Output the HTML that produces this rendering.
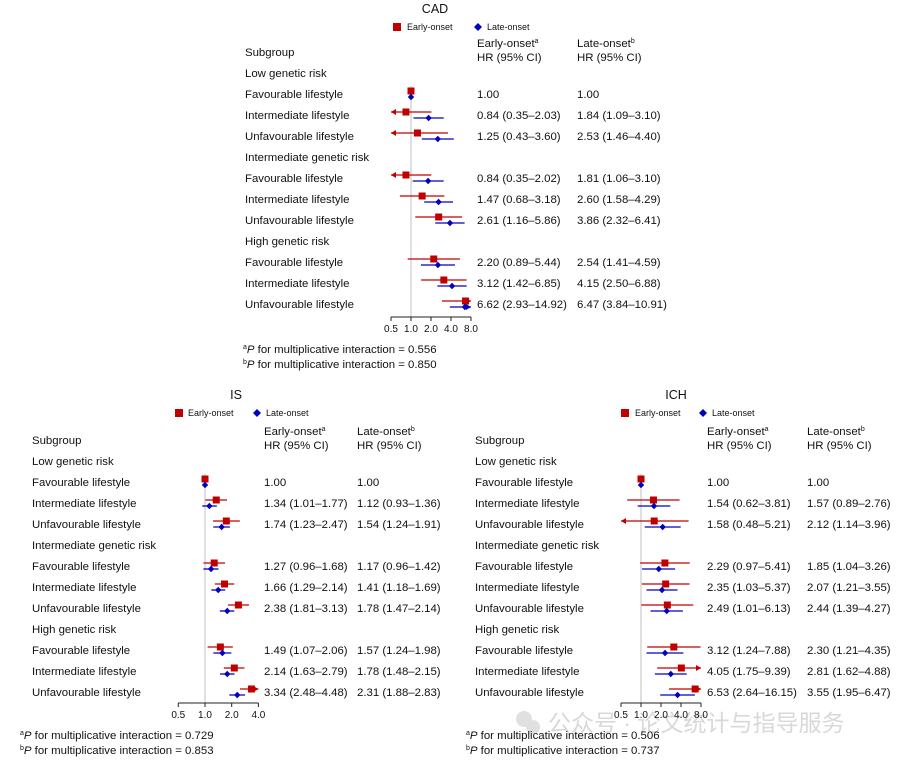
<!DOCTYPE html>
<html><head><meta charset="utf-8"><style>
body{margin:0;background:#fff}
svg{display:block;font-family:"Liberation Sans","Noto Sans CJK SC",sans-serif;fill:#111}
text{font-size:11.4px}
.sm{font-size:9px}
.ttl{font-size:12.5px}
</style></head><body>
<svg id="fig" width="917" height="762" viewBox="0 0 917 762">
<g opacity="0.45">
<circle cx="524" cy="719" r="8" fill="#bbb"/><circle cx="533" cy="727" r="7" fill="#bbb"/>
<text x="548" y="731" style="font-size:23px" fill="#aaa">公众号 · 论文统计与指导服务</text>
</g>
<g id="cad">
<text class="ttl" x="435" y="13" text-anchor="middle">CAD</text>
<g>
<rect x="393" y="23" width="8" height="8" fill="#c00000"/>
<text class="sm" x="407" y="30">Early-onset</text>
<path d="M478 23 l4 4 -4 4 -4 -4z" fill="#0000c0"/>
<text class="sm" x="487" y="30">Late-onset</text>
</g>
<text x="245" y="56">Subgroup</text>
<text x="477" y="47">Early-onset<tspan dy="-4" style="font-size:7px">a</tspan></text>
<text x="477" y="61">HR (95% CI)</text>
<text x="577" y="47">Late-onset<tspan dy="-4" style="font-size:7px">b</tspan></text>
<text x="577" y="61">HR (95% CI)</text>
<text x="243" y="353"><tspan dy="-4" style="font-size:7px">a</tspan><tspan dy="4" font-style="italic">P</tspan> for multiplicative interaction = 0.556</text>
<text x="243" y="368"><tspan dy="-4" style="font-size:7px">b</tspan><tspan dy="4" font-style="italic">P</tspan> for multiplicative interaction = 0.850</text>
</g>
<g id="is">
<text class="ttl" x="236" y="399" text-anchor="middle">IS</text>
<g>
<rect x="175" y="409" width="8" height="8" fill="#c00000"/>
<text class="sm" x="188" y="416">Early-onset</text>
<path d="M257 409 l4 4 -4 4 -4 -4z" fill="#0000c0"/>
<text class="sm" x="266" y="416">Late-onset</text>
</g>
<text x="32" y="444">Subgroup</text>
<text x="264" y="435">Early-onset<tspan dy="-4" style="font-size:7px">a</tspan></text>
<text x="264" y="449">HR (95% CI)</text>
<text x="357" y="435">Late-onset<tspan dy="-4" style="font-size:7px">b</tspan></text>
<text x="357" y="449">HR (95% CI)</text>
<text x="20" y="739"><tspan dy="-4" style="font-size:7px">a</tspan><tspan dy="4" font-style="italic">P</tspan> for multiplicative interaction = 0.729</text>
<text x="20" y="754"><tspan dy="-4" style="font-size:7px">b</tspan><tspan dy="4" font-style="italic">P</tspan> for multiplicative interaction = 0.853</text>
</g>
<g id="ich">
<text class="ttl" x="676" y="399" text-anchor="middle">ICH</text>
<g>
<rect x="621" y="409" width="8" height="8" fill="#c00000"/>
<text class="sm" x="635" y="416">Early-onset</text>
<path d="M703 409 l4 4 -4 4 -4 -4z" fill="#0000c0"/>
<text class="sm" x="712" y="416">Late-onset</text>
</g>
<text x="475" y="444">Subgroup</text>
<text x="707" y="435">Early-onset<tspan dy="-4" style="font-size:7px">a</tspan></text>
<text x="707" y="449">HR (95% CI)</text>
<text x="807" y="435">Late-onset<tspan dy="-4" style="font-size:7px">b</tspan></text>
<text x="807" y="449">HR (95% CI)</text>
<text x="466" y="739"><tspan dy="-4" style="font-size:7px">a</tspan><tspan dy="4" font-style="italic">P</tspan> for multiplicative interaction = 0.506</text>
<text x="466" y="754"><tspan dy="-4" style="font-size:7px">b</tspan><tspan dy="4" font-style="italic">P</tspan> for multiplicative interaction = 0.737</text>
</g>
</svg>
<script>
const groupLabels = ["Low genetic risk","Intermediate genetic risk","High genetic risk"];
const lifestyleLabels = ["Favourable lifestyle","Intermediate lifestyle","Unfavourable lifestyle"];
// CAD data
const cadEarlyHR = [1.00,0.84,1.25,0.84,1.47,2.61,2.20,3.12,6.62];
const cadEarlyLo = [1.00,0.35,0.43,0.35,0.68,1.16,0.89,1.42,2.93];
const cadEarlyHi = [1.00,2.03,3.60,2.02,3.18,5.86,5.44,6.85,14.92];
const cadLateHR = [1.00,1.84,2.53,1.81,2.60,3.86,2.54,4.15,6.47];
const cadLateLo = [1.00,1.09,1.46,1.06,1.58,2.32,1.41,2.50,3.84];
const cadLateHi = [1.00,3.10,4.40,3.10,4.29,6.41,4.59,6.88,10.91];
const cadTicks = ["0.5","1.0","2.0","4.0","8.0"];
// IS data
const isEarlyHR = [1.00,1.34,1.74,1.27,1.66,2.38,1.49,2.14,3.34];
const isEarlyLo = [1.00,1.01,1.23,0.96,1.29,1.81,1.07,1.63,2.48];
const isEarlyHi = [1.00,1.77,2.47,1.68,2.14,3.13,2.06,2.79,4.48];
const isLateHR = [1.00,1.12,1.54,1.17,1.41,1.78,1.57,1.78,2.31];
const isLateLo = [1.00,0.93,1.24,0.96,1.18,1.47,1.24,1.48,1.88];
const isLateHi = [1.00,1.36,1.91,1.42,1.69,2.14,1.98,2.15,2.83];
const isTicks = ["0.5","1.0","2.0","4.0"];
// ICH data
const ichEarlyHR = [1.00,1.54,1.58,2.29,2.35,2.49,3.12,4.05,6.53];
const ichEarlyLo = [1.00,0.62,0.48,0.97,1.03,1.01,1.24,1.75,2.64];
const ichEarlyHi = [1.00,3.81,5.21,5.41,5.37,6.13,7.88,9.39,16.15];
const ichLateHR = [1.00,1.57,2.12,1.85,2.07,2.44,2.30,2.81,3.55];
const ichLateLo = [1.00,0.89,1.14,1.04,1.21,1.39,1.21,1.62,1.95];
const ichLateHi = [1.00,2.76,3.96,3.26,3.55,4.27,4.35,4.88,6.47];
const ichTicks = ["0.5","1.0","2.0","4.0","8.0"];

const NS="http://www.w3.org/2000/svg";
function mk(parent,tag,attrs){const e=document.createElementNS(NS,tag);for(const k in attrs)e.setAttribute(k,attrs[k]);parent.appendChild(e);return e;}
function fmt(v){return v.toFixed(2);}
function ci(h,l,u){return h===1&&l===1&&u===1?"1.00":fmt(h)+" ("+fmt(l)+"\u2013"+fmt(u)+")";}

function panel(id,cfg,eH,eL,eU,lH,lL,lU,ticks){
  const g=document.getElementById(id);
  const minV=parseFloat(ticks[0]),maxV=parseFloat(ticks[ticks.length-1]);
  const xs=v=>cfg.x1+Math.log2(v)*cfg.k;
  const xMin=xs(minV),xMax=xs(maxV);
  for(let gi=0;gi<3;gi++){
    const hy=cfg.top+gi*cfg.step*4;
    const t=mk(g,"text",{x:cfg.lx,y:hy+4});t.textContent=groupLabels[gi];
    
    
    for(let li=0;li<3;li++){
      const y=hy+(li+1)*cfg.step;
      const tt=mk(g,"text",{x:cfg.lx,y:y+4});tt.textContent=lifestyleLabels[li];
      
      
    }
  }
  const rowY=i=>cfg.top+(Math.floor(i/3)*4+(i%3)+1)*cfg.step;
  const ref=mk(g,"line",{x1:xs(1),x2:xs(1),y1:cfg.top+cfg.step-8,y2:cfg.axisY,stroke:"#ccc","stroke-width":1.2});
  
  
  const ax=mk(g,"g",{});
  
  
  mk(ax,"line",{x1:xMin,x2:xMax,y1:cfg.axisY,y2:cfg.axisY,stroke:"#222","stroke-width":1});
  ticks.forEach(tk=>{
    const x=xs(parseFloat(tk));
    mk(ax,"line",{x1:x,x2:x,y1:cfg.axisY,y2:cfg.axisY+4,stroke:"#222","stroke-width":1});
    const t=mk(ax,"text",{x:x,y:cfg.axisY+15,"text-anchor":"middle",style:"font-size:10px"});t.textContent=tk;
    
    
  });
  function series(H,L,U,color,dy,shape,col){
    H.forEach((h,i)=>{
      const y=rowY(i)+dy;
      const lo=Math.max(L[i],minV),hi=Math.min(U[i],maxV);
      const sg=mk(g,"g",{});
      
      
      if(U[i]!==L[i]){
        mk(sg,"line",{x1:xs(lo),x2:xs(hi),y1:y,y2:y,stroke:color,"stroke-width":1.3});
        if(L[i]<minV){const x=xs(minV);mk(sg,"path",{d:`M${x} ${y} l5 -3 v6z`,fill:color});}
        if(U[i]>maxV){const x=xs(maxV);mk(sg,"path",{d:`M${x} ${y} l-5 -3 v6z`,fill:color});}
      }
      const cx=xs(Math.min(h,maxV));
      if(shape==="sq") mk(sg,"rect",{x:cx-3.5,y:y-3.5,width:7,height:7,fill:color});
      else mk(sg,"path",{d:`M${cx} ${y-3.2} l3.2 3.2 -3.2 3.2 -3.2 -3.2z`,fill:color});
      const t=mk(g,"text",{x:col,y:rowY(i)+4});t.textContent=ci(h,L[i],U[i]);
      
      
    });
  }
  series(eH,eL,eU,"#c00000",-3,"sq",cfg.c1);
  series(lH,lL,lU,"#0000c0",3,"dm",cfg.c2);
}
panel("cad",{x1:411,k:20,top:73,step:21,axisY:317,lx:245,c1:477,c2:577},cadEarlyHR,cadEarlyLo,cadEarlyHi,cadLateHR,cadLateLo,cadLateHi,cadTicks);
panel("is",{x1:205,k:26.7,top:461,step:21,axisY:703,lx:32,c1:264,c2:357},isEarlyHR,isEarlyLo,isEarlyHi,isLateHR,isLateLo,isLateHi,isTicks);
panel("ich",{x1:641,k:20,top:461,step:21,axisY:703,lx:475,c1:707,c2:807},ichEarlyHR,ichEarlyLo,ichEarlyHi,ichLateHR,ichLateLo,ichLateHi,ichTicks);
</script>
</body></html>
